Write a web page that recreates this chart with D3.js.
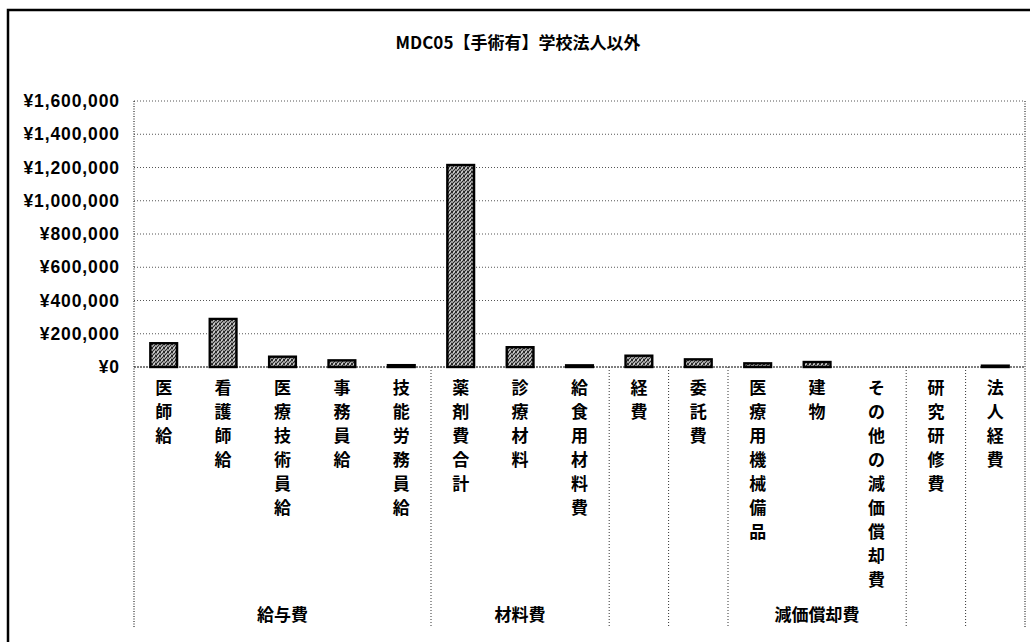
<!DOCTYPE html>
<html>
<head>
<meta charset="utf-8">
<script src="https://cdn.jsdelivr.net/npm/d3@7"></script>
<style>
  body { margin: 0; background: #fff; }
  text { font-family: "Noto Sans CJK JP", sans-serif; font-weight: bold; fill: #000; }
  .num { font-family: "Liberation Sans", Arial, sans-serif; }
</style>
</head>
<body>
<svg id="chart"></svg>
<script>
// data
const title = "MDC05【手術有】学校法人以外";
const categories = ["医師給", "看護師給", "医療技術員給", "事務員給", "技能労務員給",
    "薬剤費合計", "診療材料", "給食用材料費", "経費", "委託費",
    "医療用機械備品", "建物", "その他の減価償却費", "研究研修費", "法人経費"];
const values = [143000, 289000, 62000, 40000, 11000,
    1215000, 119000, 10000, 68000, 46000,
    22000, 30000, 0, 0, 8000];
const groupNames = ["給与費", "材料費", "", "", "減価償却費", "", ""];
const groupSizes = [5, 3, 1, 1, 3, 1, 1];
const yMax = 1600000;
const yStep = 200000;

const width = 1030, height = 642;
const plot = { left: 134, right: 1025, top: 101, bottom: 367, axisBottom: 627 };

const svg = d3.select("#chart").attr("width", width).attr("height", height);

// dithered grey fill like the scan
const defs = svg.append("defs");
const pat = defs.append("pattern").attr("id", "dither")
    .attr("width", 4).attr("height", 4).attr("patternUnits", "userSpaceOnUse");
pat.append("rect").attr("width", 4).attr("height", 4).attr("fill", "#9a9a9a");
[[0, 0], [2, 1], [1, 2], [3, 3], [3, 0], [0, 3]].forEach(([px, py]) => {
    pat.append("rect").attr("x", px).attr("y", py).attr("width", 1).attr("height", 1).attr("fill", "#2a2a2a");
});
[[1, 0], [2, 3]].forEach(([px, py]) => {
    pat.append("rect").attr("x", px).attr("y", py).attr("width", 1).attr("height", 1).attr("fill", "#d8d8d8");
});

// outer chart frame (right and bottom run off the page)
svg.append("rect")
    .attr("x", 8).attr("y", 10).attr("width", 1040).attr("height", 660)
    .attr("fill", "none").attr("stroke", "#000").attr("stroke-width", 2.5);

svg.append("text")
    .attr("x", 518).attr("y", 49)
    .attr("text-anchor", "middle")
    .style("font-size", "17px")
    .text(title);

const x = d3.scaleBand()
    .domain(categories)
    .range([plot.left, plot.right])
    .paddingInner(0.55)
    .paddingOuter(0.275);

const y = d3.scaleLinear()
    .domain([0, yMax])
    .range([plot.bottom, plot.top]);

const yTicks = d3.range(0, yMax + 1, yStep);
const fmt = d => "¥" + d3.format(",")(d);

// gridlines
svg.append("g")
    .selectAll("line")
    .data(yTicks.filter(d => d > 0))
    .enter().append("line")
    .attr("x1", plot.left).attr("x2", plot.right)
    .attr("y1", d => y(d)).attr("y2", d => y(d))
    .attr("stroke", "#555")
    .attr("stroke-width", 1)
    .attr("stroke-dasharray", "1,2");

// y axis labels
const yAxis = d3.axisLeft(y).tickValues(yTicks).tickFormat(fmt).tickSize(0).tickPadding(14);
const gy = svg.append("g").attr("transform", `translate(${plot.left},0)`).call(yAxis);
gy.select(".domain").remove();
gy.selectAll("text").attr("class", "num")
    .style("font-size", "17.5px")
    .style("letter-spacing", "0.9px")
    .attr("fill", "#000");

// plot border (dotted)
svg.append("line")
    .attr("x1", plot.right).attr("x2", plot.right)
    .attr("y1", plot.top).attr("y2", plot.axisBottom)
    .attr("stroke", "#000").attr("stroke-dasharray", "1,1.5");
svg.append("line")
    .attr("x1", plot.left).attr("x2", plot.left)
    .attr("y1", plot.top).attr("y2", plot.axisBottom)
    .attr("stroke", "#000").attr("stroke-dasharray", "1,1.5");

// bars
svg.append("g")
    .selectAll("rect")
    .data(categories.map((c, i) => ({ c, v: values[i] })).filter(d => d.v > 0))
    .enter().append("rect")
    .attr("x", d => x(d.c))
    .attr("y", d => y(d.v))
    .attr("width", x.bandwidth())
    .attr("height", d => y(0) - y(d.v))
    .attr("fill", "url(#dither)")
    .attr("stroke", "#000")
    .attr("stroke-width", 2.4);

// category axis line
svg.append("line")
    .attr("x1", plot.left).attr("x2", plot.right)
    .attr("y1", y(0)).attr("y2", y(0))
    .attr("stroke", "#000").attr("stroke-width", 1.2)
    .attr("stroke-dasharray", "2,1");

// vertical category labels
const labels = svg.append("g");
categories.forEach(c => {
    const t = labels.append("text")
        .attr("text-anchor", "middle")
        .style("font-size", "17px");
    Array.from(c).forEach((ch, k) => {
        t.append("tspan")
            .attr("x", x(c) + x.bandwidth() / 2)
            .attr("y", 394 + k * 24)
            .text(ch);
    });
});

// group labels and dividers
let start = 0;
const step = x.step();
groupSizes.forEach((n, gi) => {
    const x0 = plot.left + start * step;
    const x1 = plot.left + (start + n) * step;
    if (groupNames[gi]) {
        svg.append("text")
            .attr("x", (x0 + x1) / 2).attr("y", 621)
            .attr("text-anchor", "middle")
            .style("font-size", "17px")
            .text(groupNames[gi]);
    }
    if (start + n < categories.length) {
        svg.append("line")
            .attr("x1", x1).attr("x2", x1)
            .attr("y1", y(0)).attr("y2", plot.axisBottom)
            .attr("stroke", "#333").attr("stroke-dasharray", "1,2");
    }
    start += n;
});
</script>
</body>
</html>
